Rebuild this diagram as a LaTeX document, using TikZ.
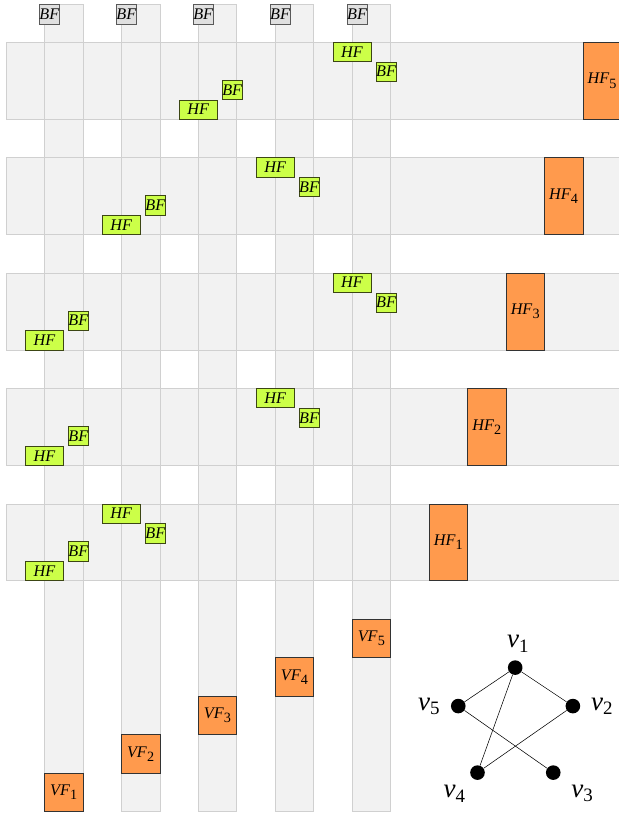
\documentclass[tikz,border=0pt]{standalone}
\usepackage{fontspec}
\setmainfont{Liberation Serif}
\usetikzlibrary{positioning}
\definecolor{bandfill}{RGB}{242,242,242}
\definecolor{banddraw}{RGB}{208,208,208}
\definecolor{freeorange}{RGB}{255,154,77}
\definecolor{freegreen}{RGB}{204,255,72}
\definecolor{greendraw}{RGB}{60,70,20}
\definecolor{bfgray}{RGB}{224,224,224}
\newcommand{\fsub}[2]{\textit{#1}\textsubscript{#2}}
\newcommand{\bsub}[2]{\textit{#1}\raisebox{-0.25em}{\fontsize{10.5}{12}\selectfont #2}}

\begin{document}
\begin{tikzpicture}[font=\fontsize{12}{14}\selectfont,
    bigbox/.style={draw=black!80, fill=freeorange, inner sep=0pt},
    hfbox/.style={draw=greendraw, fill=freegreen, minimum width=1cm, minimum height=0.5cm, inner sep=0pt},
    bfbox/.style={draw=greendraw, fill=freegreen, minimum width=0.52cm, minimum height=0.5cm, inner sep=0pt},
    topbf/.style={draw=black!65, fill=bfgray, minimum width=0.52cm, minimum height=0.5cm, inner sep=0pt},
    vert/.style={circle, fill=black, inner sep=0pt, minimum size=0.38cm},
    vlabel/.style={font=\fontsize{20}{24}\selectfont}]
    \useasboundingbox (-0.156,-0.04) rectangle (15.92,21.1);

    % Spalten und Zeilen (Flaechen zuerst, dann Raender)
    \foreach \c in {1,...,5} {
        \fill[bandfill] ({2*\c-1},0) rectangle ({2*\c},21);
    }
    \foreach \r in {1,...,5} {
        \fill[bandfill] (0,{3*\r+3}) rectangle (16,{3*\r+5});
    }
    \foreach \c in {1,...,5} {
        \draw[banddraw] ({2*\c-1},0) rectangle ({2*\c},21);
    }
    \foreach \r in {1,...,5} {
        \draw[banddraw] (0,{3*\r+3}) rectangle (16,{3*\r+5});
    }

    % BF oben an den Spalten
    \foreach \c in {1,...,5} {
        \node[topbf] (bf\c) at ({2*\c-0.87},20.73) {\textit{BF}};
    }

    % HF und VF Kaesten
    \foreach \r in {1,...,5} {
        \node[bigbox, minimum width=1cm, minimum height=2cm] (hf\r) at ({10.5+\r},{3*\r+4}) {\bsub{HF}{\r}};
        \node[bigbox, minimum width=1cm, minimum height=1cm] (vf\r) at ({2*\r-0.5},{\r-0.5}) {\bsub{VF}{\r}};
    }

    % gruene Paare: oben (BF unten rechts)
    \foreach \x/\y/\n in {9/19.75/a5, 7/16.75/a4, 9/13.75/a3, 7/10.75/a2, 3/7.75/a1} {
        \node[hfbox] (h\n) at (\x,\y) {\textit{HF}};
        \node[bfbox, below right=0cm and 0.11cm of h\n] (b\n) {\textit{BF}};
    }
    % gruene Paare: unten (BF oben rechts)
    \foreach \x/\y/\n in {5/18.25/b5, 3/15.25/b4, 1/12.25/b3, 1/9.25/b2, 1/6.25/b1} {
        \node[hfbox] (h\n) at (\x,\y) {\textit{HF}};
        \node[bfbox, above right=0cm and 0.11cm of h\n] (b\n) {\textit{BF}};
    }

    % Graph
    \node[vert, label={[vlabel, label distance=0.08cm, xshift=0.08cm]above:\fsub{v}{1}}] (v1) at (13.24,3.74) {};
    \node[vert, label={[vlabel, label distance=0.15cm]right:\fsub{v}{2}}] (v2) at (14.74,2.74) {};
    \node[vert, label={[vlabel, label distance=0.2cm]-30:\fsub{v}{3}}] (v3) at (14.23,1.01) {};
    \node[vert, label={[vlabel, label distance=0.08cm]-130:\fsub{v}{4}}] (v4) at (12.26,1.01) {};
    \node[vert, label={[vlabel, label distance=0.15cm]left:\fsub{v}{5}}] (v5) at (11.76,2.74) {};
    \draw (v1) -- (v5);
    \draw (v1) -- (v2);
    \draw (v1) -- (v4);
    \draw (v5) -- (v3);
    \draw (v2) -- (v4);
\end{tikzpicture}
\end{document}
